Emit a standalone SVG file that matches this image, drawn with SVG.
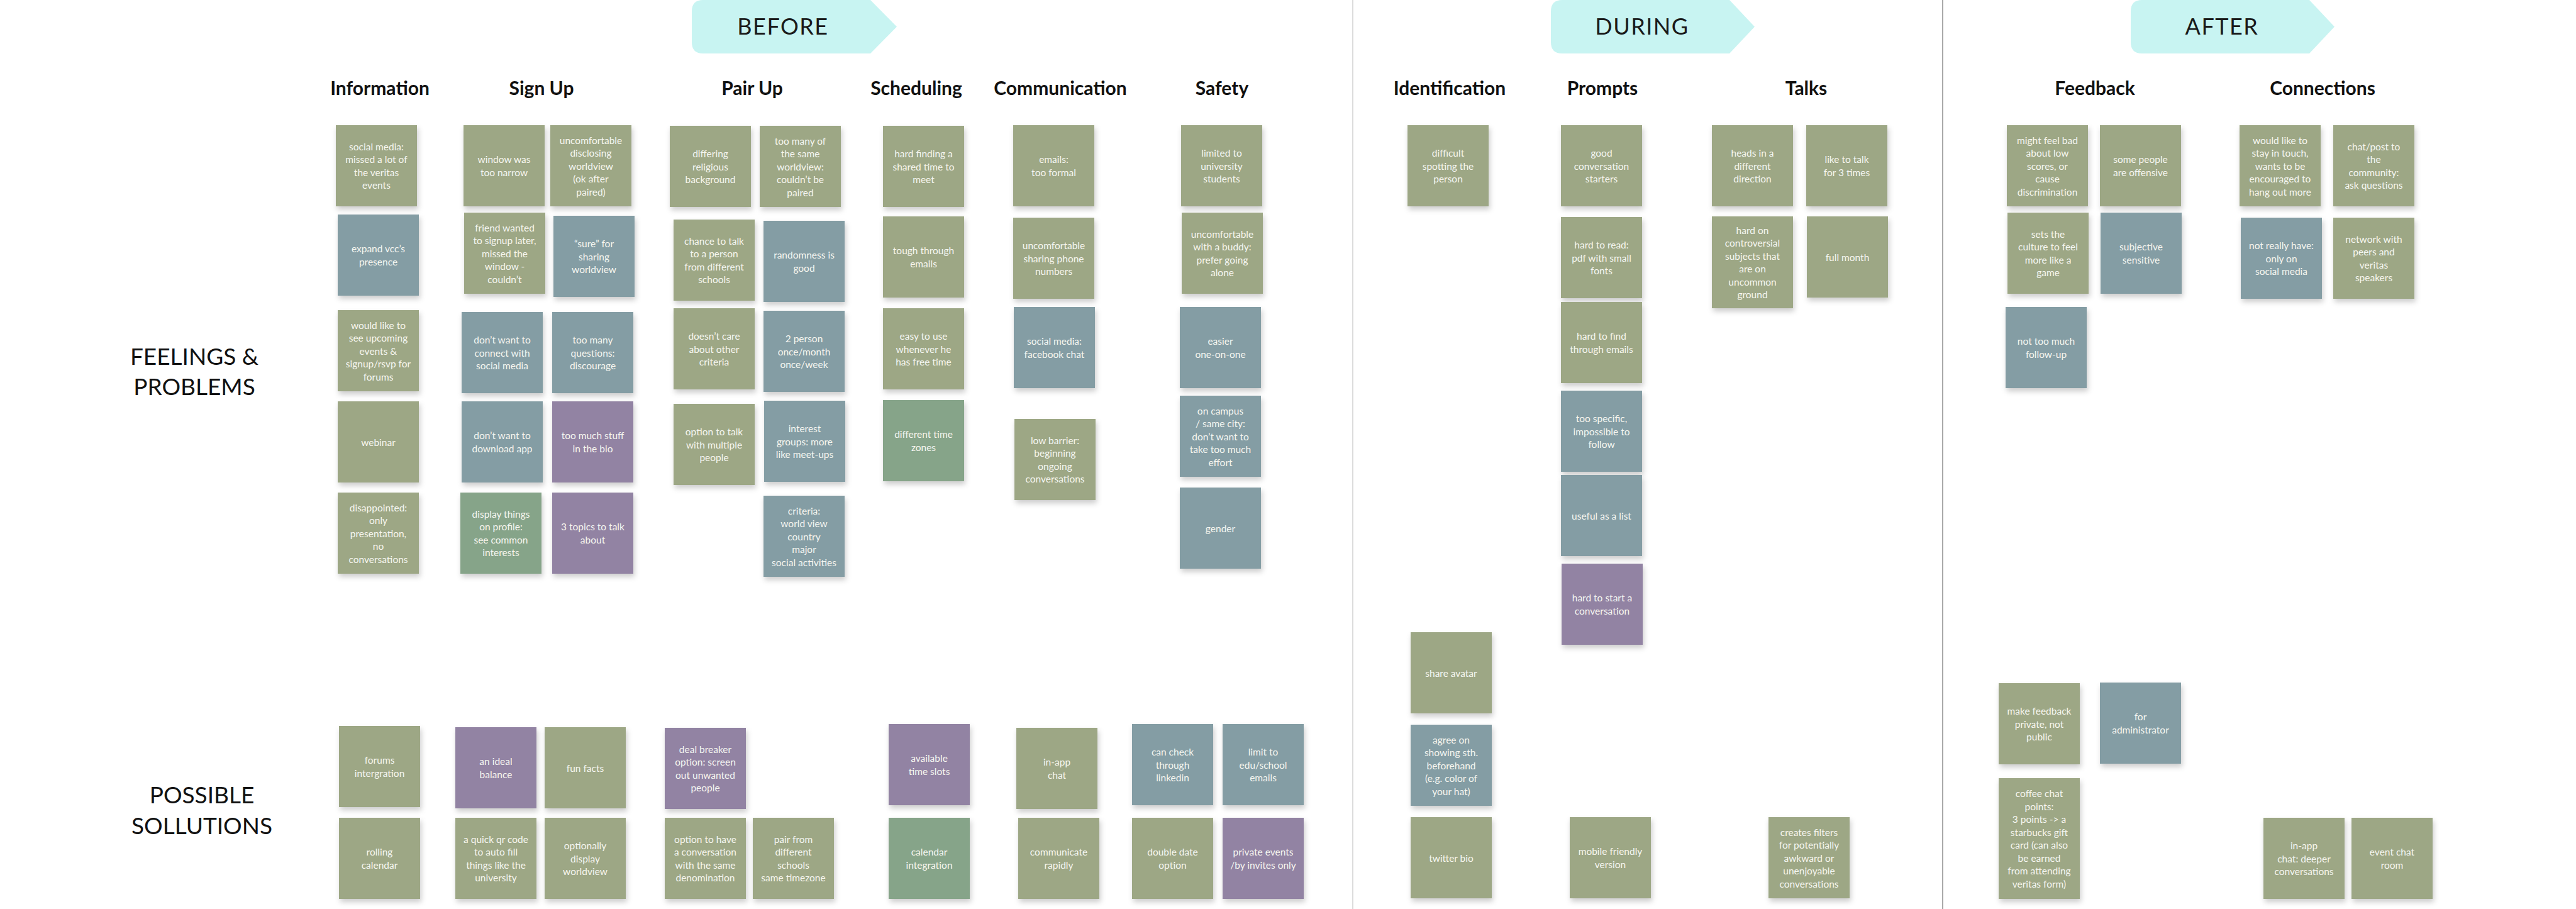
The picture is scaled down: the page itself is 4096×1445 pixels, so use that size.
<svg xmlns="http://www.w3.org/2000/svg" width="4096" height="1445" viewBox="0 0 4096 1445">
<defs>
<filter id="sh" x="-15%" y="-15%" width="140%" height="145%"><feDropShadow dx="2" dy="5" stdDeviation="4" flood-color="#000" flood-opacity="0.2"/></filter>
<style>
.g{fill:#9da785}.b{fill:#849da4}.p{fill:#9283a3}.t{fill:#86a489}
.s{filter:url(#sh)}
.n{font-family:Lato,"Open Sans","Liberation Sans",sans-serif;font-size:15.5px;fill:#f6f6f0;text-anchor:middle;dominant-baseline:central}
.h{font-family:Lato,"Open Sans","Liberation Sans",sans-serif;font-size:30px;font-weight:700;fill:#111;text-anchor:middle}
.r{font-family:Lato,"Open Sans","Liberation Sans",sans-serif;font-size:37px;fill:#111;text-anchor:middle}
.bt{font-family:Lato,"Open Sans","Liberation Sans",sans-serif;font-size:36px;fill:#1a1a1a;text-anchor:middle;letter-spacing:1.5px}
.ban{fill:#c8f4f2}
</style>
</defs>
<rect width="4096" height="1445" fill="#fff"/>
<g id="dividers">
<line x1="2151" y1="0" x2="2151" y2="1445" stroke="#dcdcdc" stroke-width="2"/>
<line x1="3089" y1="0" x2="3089" y2="1445" stroke="#a9a9a9" stroke-width="2"/>
</g>
<g id="banner-before"><path class="ban" d="M1118 0 L1384 0 L1426 42.5 L1384 85 L1118 85 Q1100 85 1100 67 L1100 18 Q1100 0 1118 0 Z"/><text class="bt" x="1245" y="55">BEFORE</text></g>
<g id="banner-during"><path class="ban" d="M2484 0 L2750 0 L2790 42.5 L2750 85 L2484 85 Q2466 85 2466 67 L2466 18 Q2466 0 2484 0 Z"/><text class="bt" x="2611" y="55">DURING</text></g>
<g id="banner-after"><path class="ban" d="M3406 0 L3672 0 L3712 42.5 L3672 85 L3406 85 Q3388 85 3388 67 L3388 18 Q3388 0 3406 0 Z"/><text class="bt" x="3533" y="55">AFTER</text></g>
<g id="headers">
<text class="h" x="604" y="151">Information</text>
<text class="h" x="861" y="151">Sign Up</text>
<text class="h" x="1196" y="151">Pair Up</text>
<text class="h" x="1457" y="151">Scheduling</text>
<text class="h" x="1686" y="151">Communication</text>
<text class="h" x="1943" y="151">Safety</text>
<text class="h" x="2305" y="151">Identification</text>
<text class="h" x="2548" y="151">Prompts</text>
<text class="h" x="2872" y="151">Talks</text>
<text class="h" x="3331" y="151">Feedback</text>
<text class="h" x="3693" y="151">Connections</text>
</g>
<g id="row-labels">
<text class="r" x="309" y="580">FEELINGS &amp;</text>
<text class="r" x="309" y="628">PROBLEMS</text>
<text class="r" x="321" y="1277">POSSIBLE</text>
<text class="r" x="321" y="1326">SOLLUTIONS</text>
</g>
<g id="n1"><rect class="g s" x="534" y="199" width="129" height="129"/><text class="n" x="598.5" y="232.75"><tspan x="598.5">social media:</tspan><tspan x="598.5" dy="20.5">missed a lot of</tspan><tspan x="598.5" dy="20.5">the veritas</tspan><tspan x="598.5" dy="20.5">events</tspan></text></g>
<g id="n2"><rect class="g s" x="737" y="199" width="129" height="129"/><text class="n" x="801.5" y="253.25"><tspan x="801.5">window was</tspan><tspan x="801.5" dy="20.5">too narrow</tspan></text></g>
<g id="n3"><rect class="g s" x="875" y="199" width="129" height="129"/><text class="n" x="939.5" y="222.5"><tspan x="939.5">uncomfortable</tspan><tspan x="939.5" dy="20.5">disclosing</tspan><tspan x="939.5" dy="20.5">worldview</tspan><tspan x="939.5" dy="20.5">(ok after</tspan><tspan x="939.5" dy="20.5">paired)</tspan></text></g>
<g id="n4"><rect class="b s" x="537" y="341" width="129" height="129"/><text class="n" x="601.5" y="395.25"><tspan x="601.5">expand vcc’s</tspan><tspan x="601.5" dy="20.5">presence</tspan></text></g>
<g id="n5"><rect class="g s" x="738" y="338" width="129" height="129"/><text class="n" x="802.5" y="361.5"><tspan x="802.5">friend wanted</tspan><tspan x="802.5" dy="20.5">to signup later,</tspan><tspan x="802.5" dy="20.5">missed the</tspan><tspan x="802.5" dy="20.5">window -</tspan><tspan x="802.5" dy="20.5">couldn’t</tspan></text></g>
<g id="n6"><rect class="b s" x="880" y="343" width="129" height="129"/><text class="n" x="944.5" y="387"><tspan x="944.5">“sure” for</tspan><tspan x="944.5" dy="20.5">sharing</tspan><tspan x="944.5" dy="20.5">worldview</tspan></text></g>
<g id="n7"><rect class="g s" x="537" y="493" width="129" height="129"/><text class="n" x="601.5" y="516.5"><tspan x="601.5">would like to</tspan><tspan x="601.5" dy="20.5">see upcoming</tspan><tspan x="601.5" dy="20.5">events &amp;</tspan><tspan x="601.5" dy="20.5">signup/rsvp for</tspan><tspan x="601.5" dy="20.5">forums</tspan></text></g>
<g id="n8"><rect class="b s" x="734" y="496" width="129" height="129"/><text class="n" x="798.5" y="540"><tspan x="798.5">don’t want to</tspan><tspan x="798.5" dy="20.5">connect with</tspan><tspan x="798.5" dy="20.5">social media</tspan></text></g>
<g id="n9"><rect class="b s" x="878" y="496" width="129" height="129"/><text class="n" x="942.5" y="540"><tspan x="942.5">too many</tspan><tspan x="942.5" dy="20.5">questions:</tspan><tspan x="942.5" dy="20.5">discourage</tspan></text></g>
<g id="n10"><rect class="g s" x="537" y="638" width="129" height="129"/><text class="n" x="601.5" y="702.5"><tspan x="601.5">webinar</tspan></text></g>
<g id="n11"><rect class="b s" x="734" y="638" width="129" height="129"/><text class="n" x="798.5" y="692.25"><tspan x="798.5">don’t want to</tspan><tspan x="798.5" dy="20.5">download app</tspan></text></g>
<g id="n12"><rect class="p s" x="878" y="638" width="129" height="129"/><text class="n" x="942.5" y="692.25"><tspan x="942.5">too much stuff</tspan><tspan x="942.5" dy="20.5">in the bio</tspan></text></g>
<g id="n13"><rect class="g s" x="537" y="783" width="129" height="129"/><text class="n" x="601.5" y="806.5"><tspan x="601.5">disappointed:</tspan><tspan x="601.5" dy="20.5">only</tspan><tspan x="601.5" dy="20.5">presentation,</tspan><tspan x="601.5" dy="20.5">no</tspan><tspan x="601.5" dy="20.5">conversations</tspan></text></g>
<g id="n14"><rect class="t s" x="732" y="783" width="129" height="129"/><text class="n" x="796.5" y="816.75"><tspan x="796.5">display things</tspan><tspan x="796.5" dy="20.5">on profile:</tspan><tspan x="796.5" dy="20.5">see common</tspan><tspan x="796.5" dy="20.5">interests</tspan></text></g>
<g id="n15"><rect class="p s" x="878" y="783" width="129" height="129"/><text class="n" x="942.5" y="837.25"><tspan x="942.5">3 topics to talk</tspan><tspan x="942.5" dy="20.5">about</tspan></text></g>
<g id="n16"><rect class="g s" x="1065" y="200" width="129" height="129"/><text class="n" x="1129.5" y="244"><tspan x="1129.5">differing</tspan><tspan x="1129.5" dy="20.5">religious</tspan><tspan x="1129.5" dy="20.5">background</tspan></text></g>
<g id="n17"><rect class="g s" x="1208" y="200" width="129" height="129"/><text class="n" x="1272.5" y="223.5"><tspan x="1272.5">too many of</tspan><tspan x="1272.5" dy="20.5">the same</tspan><tspan x="1272.5" dy="20.5">worldview:</tspan><tspan x="1272.5" dy="20.5">couldn’t be</tspan><tspan x="1272.5" dy="20.5">paired</tspan></text></g>
<g id="n18"><rect class="g s" x="1071" y="349" width="129" height="129"/><text class="n" x="1135.5" y="382.75"><tspan x="1135.5">chance to talk</tspan><tspan x="1135.5" dy="20.5">to a person</tspan><tspan x="1135.5" dy="20.5">from different</tspan><tspan x="1135.5" dy="20.5">schools</tspan></text></g>
<g id="n19"><rect class="b s" x="1214" y="351" width="129" height="129"/><text class="n" x="1278.5" y="405.25"><tspan x="1278.5">randomness is</tspan><tspan x="1278.5" dy="20.5">good</tspan></text></g>
<g id="n20"><rect class="g s" x="1071" y="490" width="129" height="129"/><text class="n" x="1135.5" y="534"><tspan x="1135.5">doesn’t care</tspan><tspan x="1135.5" dy="20.5">about other</tspan><tspan x="1135.5" dy="20.5">criteria</tspan></text></g>
<g id="n21"><rect class="b s" x="1214" y="494" width="129" height="129"/><text class="n" x="1278.5" y="538"><tspan x="1278.5">2 person</tspan><tspan x="1278.5" dy="20.5">once/month</tspan><tspan x="1278.5" dy="20.5">once/week</tspan></text></g>
<g id="n22"><rect class="g s" x="1071" y="642" width="129" height="129"/><text class="n" x="1135.5" y="686"><tspan x="1135.5">option to talk</tspan><tspan x="1135.5" dy="20.5">with multiple</tspan><tspan x="1135.5" dy="20.5">people</tspan></text></g>
<g id="n23"><rect class="b s" x="1215" y="637" width="129" height="129"/><text class="n" x="1279.5" y="681"><tspan x="1279.5">interest</tspan><tspan x="1279.5" dy="20.5">groups: more</tspan><tspan x="1279.5" dy="20.5">like meet-ups</tspan></text></g>
<g id="n24"><rect class="b s" x="1214" y="788" width="129" height="129"/><text class="n" x="1278.5" y="811.5"><tspan x="1278.5">criteria:</tspan><tspan x="1278.5" dy="20.5">world view</tspan><tspan x="1278.5" dy="20.5">country</tspan><tspan x="1278.5" dy="20.5">major</tspan><tspan x="1278.5" dy="20.5">social activities</tspan></text></g>
<g id="n25"><rect class="g s" x="1404" y="200" width="129" height="129"/><text class="n" x="1468.5" y="244"><tspan x="1468.5">hard finding a</tspan><tspan x="1468.5" dy="20.5">shared time to</tspan><tspan x="1468.5" dy="20.5">meet</tspan></text></g>
<g id="n26"><rect class="g s" x="1404" y="344" width="129" height="129"/><text class="n" x="1468.5" y="398.25"><tspan x="1468.5">tough through</tspan><tspan x="1468.5" dy="20.5">emails</tspan></text></g>
<g id="n27"><rect class="g s" x="1404" y="490" width="129" height="129"/><text class="n" x="1468.5" y="534"><tspan x="1468.5">easy to use</tspan><tspan x="1468.5" dy="20.5">whenever he</tspan><tspan x="1468.5" dy="20.5">has free time</tspan></text></g>
<g id="n28"><rect class="t s" x="1404" y="636" width="129" height="129"/><text class="n" x="1468.5" y="690.25"><tspan x="1468.5">different time</tspan><tspan x="1468.5" dy="20.5">zones</tspan></text></g>
<g id="n29"><rect class="g s" x="1611" y="199" width="129" height="129"/><text class="n" x="1675.5" y="253.25"><tspan x="1675.5">emails:</tspan><tspan x="1675.5" dy="20.5">too formal</tspan></text></g>
<g id="n30"><rect class="g s" x="1611" y="346" width="129" height="129"/><text class="n" x="1675.5" y="390"><tspan x="1675.5">uncomfortable</tspan><tspan x="1675.5" dy="20.5">sharing phone</tspan><tspan x="1675.5" dy="20.5">numbers</tspan></text></g>
<g id="n31"><rect class="b s" x="1612" y="488" width="129" height="129"/><text class="n" x="1676.5" y="542.25"><tspan x="1676.5">social media:</tspan><tspan x="1676.5" dy="20.5">facebook chat</tspan></text></g>
<g id="n32"><rect class="g s" x="1613" y="666" width="129" height="129"/><text class="n" x="1677.5" y="699.75"><tspan x="1677.5">low barrier:</tspan><tspan x="1677.5" dy="20.5">beginning</tspan><tspan x="1677.5" dy="20.5">ongoing</tspan><tspan x="1677.5" dy="20.5">conversations</tspan></text></g>
<g id="n33"><rect class="g s" x="1878" y="199" width="129" height="129"/><text class="n" x="1942.5" y="243"><tspan x="1942.5">limited to</tspan><tspan x="1942.5" dy="20.5">university</tspan><tspan x="1942.5" dy="20.5">students</tspan></text></g>
<g id="n34"><rect class="g s" x="1879" y="338" width="129" height="129"/><text class="n" x="1943.5" y="371.75"><tspan x="1943.5">uncomfortable</tspan><tspan x="1943.5" dy="20.5">with a buddy:</tspan><tspan x="1943.5" dy="20.5">prefer going</tspan><tspan x="1943.5" dy="20.5">alone</tspan></text></g>
<g id="n35"><rect class="b s" x="1876" y="488" width="129" height="129"/><text class="n" x="1940.5" y="542.25"><tspan x="1940.5">easier</tspan><tspan x="1940.5" dy="20.5">one-on-one</tspan></text></g>
<g id="n36"><rect class="b s" x="1876" y="629" width="129" height="129"/><text class="n" x="1940.5" y="652.5"><tspan x="1940.5">on campus</tspan><tspan x="1940.5" dy="20.5">/ same city:</tspan><tspan x="1940.5" dy="20.5">don’t want to</tspan><tspan x="1940.5" dy="20.5">take too much</tspan><tspan x="1940.5" dy="20.5">effort</tspan></text></g>
<g id="n37"><rect class="b s" x="1876" y="775" width="129" height="129"/><text class="n" x="1940.5" y="839.5"><tspan x="1940.5">gender</tspan></text></g>
<g id="n38"><rect class="g s" x="2238" y="199" width="129" height="129"/><text class="n" x="2302.5" y="243"><tspan x="2302.5">difficult</tspan><tspan x="2302.5" dy="20.5">spotting the</tspan><tspan x="2302.5" dy="20.5">person</tspan></text></g>
<g id="n39"><rect class="g s" x="2482" y="199" width="129" height="129"/><text class="n" x="2546.5" y="243"><tspan x="2546.5">good</tspan><tspan x="2546.5" dy="20.5">conversation</tspan><tspan x="2546.5" dy="20.5">starters</tspan></text></g>
<g id="n40"><rect class="g s" x="2482" y="345" width="129" height="129"/><text class="n" x="2546.5" y="389"><tspan x="2546.5">hard to read:</tspan><tspan x="2546.5" dy="20.5">pdf with small</tspan><tspan x="2546.5" dy="20.5">fonts</tspan></text></g>
<g id="n41"><rect class="g s" x="2482" y="480" width="129" height="129"/><text class="n" x="2546.5" y="534.25"><tspan x="2546.5">hard to find</tspan><tspan x="2546.5" dy="20.5">through emails</tspan></text></g>
<g id="n42"><rect class="b s" x="2482" y="621" width="129" height="129"/><text class="n" x="2546.5" y="665"><tspan x="2546.5">too specific,</tspan><tspan x="2546.5" dy="20.5">impossible to</tspan><tspan x="2546.5" dy="20.5">follow</tspan></text></g>
<g id="n43"><rect class="b s" x="2482" y="755" width="129" height="129"/><text class="n" x="2546.5" y="819.5"><tspan x="2546.5">useful as a list</tspan></text></g>
<g id="n44"><rect class="p s" x="2483" y="896" width="129" height="129"/><text class="n" x="2547.5" y="950.25"><tspan x="2547.5">hard to start a</tspan><tspan x="2547.5" dy="20.5">conversation</tspan></text></g>
<g id="n45"><rect class="g s" x="2722" y="199" width="129" height="129"/><text class="n" x="2786.5" y="243"><tspan x="2786.5">heads in a</tspan><tspan x="2786.5" dy="20.5">different</tspan><tspan x="2786.5" dy="20.5">direction</tspan></text></g>
<g id="n46"><rect class="g s" x="2872" y="199" width="129" height="129"/><text class="n" x="2936.5" y="253.25"><tspan x="2936.5">like to talk</tspan><tspan x="2936.5" dy="20.5">for 3 times</tspan></text></g>
<g id="n47"><rect class="g s" x="2722" y="344" width="129" height="146"/><text class="n" x="2786.5" y="365.75"><tspan x="2786.5">hard on</tspan><tspan x="2786.5" dy="20.5">controversial</tspan><tspan x="2786.5" dy="20.5">subjects that</tspan><tspan x="2786.5" dy="20.5">are on</tspan><tspan x="2786.5" dy="20.5">uncommon</tspan><tspan x="2786.5" dy="20.5">ground</tspan></text></g>
<g id="n48"><rect class="g s" x="2873" y="344" width="129" height="129"/><text class="n" x="2937.5" y="408.5"><tspan x="2937.5">full month</tspan></text></g>
<g id="n49"><rect class="g s" x="3191" y="199" width="129" height="129"/><text class="n" x="3255.5" y="222.5"><tspan x="3255.5">might feel bad</tspan><tspan x="3255.5" dy="20.5">about  low</tspan><tspan x="3255.5" dy="20.5">scores, or</tspan><tspan x="3255.5" dy="20.5">cause</tspan><tspan x="3255.5" dy="20.5">discrimination</tspan></text></g>
<g id="n50"><rect class="g s" x="3339" y="199" width="129" height="129"/><text class="n" x="3403.5" y="253.25"><tspan x="3403.5">some people</tspan><tspan x="3403.5" dy="20.5">are offensive</tspan></text></g>
<g id="n51"><rect class="g s" x="3192" y="338" width="129" height="129"/><text class="n" x="3256.5" y="371.75"><tspan x="3256.5">sets the</tspan><tspan x="3256.5" dy="20.5">culture to feel</tspan><tspan x="3256.5" dy="20.5">more like a</tspan><tspan x="3256.5" dy="20.5">game</tspan></text></g>
<g id="n52"><rect class="b s" x="3340" y="338" width="129" height="129"/><text class="n" x="3404.5" y="392.25"><tspan x="3404.5">subjective</tspan><tspan x="3404.5" dy="20.5">sensitive</tspan></text></g>
<g id="n53"><rect class="b s" x="3189" y="488" width="129" height="129"/><text class="n" x="3253.5" y="542.25"><tspan x="3253.5">not too much</tspan><tspan x="3253.5" dy="20.5">follow-up</tspan></text></g>
<g id="n54"><rect class="g s" x="3561" y="199" width="129" height="129"/><text class="n" x="3625.5" y="222.5"><tspan x="3625.5">would like to</tspan><tspan x="3625.5" dy="20.5">stay in touch,</tspan><tspan x="3625.5" dy="20.5">wants to be</tspan><tspan x="3625.5" dy="20.5">encouraged to</tspan><tspan x="3625.5" dy="20.5">hang out more</tspan></text></g>
<g id="n55"><rect class="g s" x="3710" y="199" width="129" height="129"/><text class="n" x="3774.5" y="232.75"><tspan x="3774.5">chat/post to</tspan><tspan x="3774.5" dy="20.5">the</tspan><tspan x="3774.5" dy="20.5">community:</tspan><tspan x="3774.5" dy="20.5">ask questions</tspan></text></g>
<g id="n56"><rect class="b s" x="3563" y="346" width="129" height="129"/><text class="n" x="3627.5" y="390"><tspan x="3627.5">not really have:</tspan><tspan x="3627.5" dy="20.5">only on</tspan><tspan x="3627.5" dy="20.5">social media</tspan></text></g>
<g id="n57"><rect class="g s" x="3710" y="346" width="129" height="129"/><text class="n" x="3774.5" y="379.75"><tspan x="3774.5">network with</tspan><tspan x="3774.5" dy="20.5">peers and</tspan><tspan x="3774.5" dy="20.5">veritas</tspan><tspan x="3774.5" dy="20.5">speakers</tspan></text></g>
<g id="n58"><rect class="g s" x="539" y="1154" width="129" height="129"/><text class="n" x="603.5" y="1208.25"><tspan x="603.5">forums</tspan><tspan x="603.5" dy="20.5">intergration</tspan></text></g>
<g id="n59"><rect class="g s" x="539" y="1300" width="129" height="129"/><text class="n" x="603.5" y="1354.25"><tspan x="603.5">rolling</tspan><tspan x="603.5" dy="20.5">calendar</tspan></text></g>
<g id="n60"><rect class="p s" x="724" y="1156" width="129" height="129"/><text class="n" x="788.5" y="1210.25"><tspan x="788.5">an ideal</tspan><tspan x="788.5" dy="20.5">balance</tspan></text></g>
<g id="n61"><rect class="g s" x="866" y="1156" width="129" height="129"/><text class="n" x="930.5" y="1220.5"><tspan x="930.5">fun facts</tspan></text></g>
<g id="n62"><rect class="g s" x="724" y="1300" width="129" height="129"/><text class="n" x="788.5" y="1333.75"><tspan x="788.5">a quick qr code</tspan><tspan x="788.5" dy="20.5">to auto fill</tspan><tspan x="788.5" dy="20.5">things like the</tspan><tspan x="788.5" dy="20.5">university</tspan></text></g>
<g id="n63"><rect class="g s" x="866" y="1300" width="129" height="129"/><text class="n" x="930.5" y="1344"><tspan x="930.5">optionally</tspan><tspan x="930.5" dy="20.5">display</tspan><tspan x="930.5" dy="20.5">worldview</tspan></text></g>
<g id="n64"><rect class="p s" x="1057" y="1157" width="129" height="129"/><text class="n" x="1121.5" y="1190.75"><tspan x="1121.5">deal breaker</tspan><tspan x="1121.5" dy="20.5">option: screen</tspan><tspan x="1121.5" dy="20.5">out unwanted</tspan><tspan x="1121.5" dy="20.5">people</tspan></text></g>
<g id="n65"><rect class="g s" x="1057" y="1300" width="129" height="129"/><text class="n" x="1121.5" y="1333.75"><tspan x="1121.5">option to have</tspan><tspan x="1121.5" dy="20.5">a conversation</tspan><tspan x="1121.5" dy="20.5">with the same</tspan><tspan x="1121.5" dy="20.5">denomination</tspan></text></g>
<g id="n66"><rect class="g s" x="1197" y="1300" width="129" height="129"/><text class="n" x="1261.5" y="1333.75"><tspan x="1261.5">pair from</tspan><tspan x="1261.5" dy="20.5">different</tspan><tspan x="1261.5" dy="20.5">schools</tspan><tspan x="1261.5" dy="20.5">same timezone</tspan></text></g>
<g id="n67"><rect class="p s" x="1413" y="1151" width="129" height="129"/><text class="n" x="1477.5" y="1205.25"><tspan x="1477.5">available</tspan><tspan x="1477.5" dy="20.5">time slots</tspan></text></g>
<g id="n68"><rect class="t s" x="1413" y="1300" width="129" height="129"/><text class="n" x="1477.5" y="1354.25"><tspan x="1477.5">calendar</tspan><tspan x="1477.5" dy="20.5">integration</tspan></text></g>
<g id="n69"><rect class="g s" x="1616" y="1157" width="129" height="129"/><text class="n" x="1680.5" y="1211.25"><tspan x="1680.5">in-app</tspan><tspan x="1680.5" dy="20.5">chat</tspan></text></g>
<g id="n70"><rect class="g s" x="1619" y="1300" width="129" height="129"/><text class="n" x="1683.5" y="1354.25"><tspan x="1683.5">communicate</tspan><tspan x="1683.5" dy="20.5">rapidly</tspan></text></g>
<g id="n71"><rect class="b s" x="1800" y="1151" width="129" height="129"/><text class="n" x="1864.5" y="1195"><tspan x="1864.5">can check</tspan><tspan x="1864.5" dy="20.5">through</tspan><tspan x="1864.5" dy="20.5">linkedin</tspan></text></g>
<g id="n72"><rect class="b s" x="1944" y="1151" width="129" height="129"/><text class="n" x="2008.5" y="1195"><tspan x="2008.5">limit to</tspan><tspan x="2008.5" dy="20.5">edu/school</tspan><tspan x="2008.5" dy="20.5">emails</tspan></text></g>
<g id="n73"><rect class="g s" x="1800" y="1300" width="129" height="129"/><text class="n" x="1864.5" y="1354.25"><tspan x="1864.5">double date</tspan><tspan x="1864.5" dy="20.5">option</tspan></text></g>
<g id="n74"><rect class="p s" x="1944" y="1300" width="129" height="129"/><text class="n" x="2008.5" y="1354.25"><tspan x="2008.5">private events</tspan><tspan x="2008.5" dy="20.5">/by invites only</tspan></text></g>
<g id="n75"><rect class="g s" x="2243" y="1005" width="129" height="129"/><text class="n" x="2307.5" y="1069.5"><tspan x="2307.5">share avatar</tspan></text></g>
<g id="n76"><rect class="b s" x="2243" y="1152" width="129" height="129"/><text class="n" x="2307.5" y="1175.5"><tspan x="2307.5">agree on</tspan><tspan x="2307.5" dy="20.5">showing sth.</tspan><tspan x="2307.5" dy="20.5">beforehand</tspan><tspan x="2307.5" dy="20.5">(e.g. color of</tspan><tspan x="2307.5" dy="20.5">your hat)</tspan></text></g>
<g id="n77"><rect class="g s" x="2243" y="1299" width="129" height="129"/><text class="n" x="2307.5" y="1363.5"><tspan x="2307.5">twitter bio</tspan></text></g>
<g id="n78"><rect class="g s" x="2496" y="1299" width="129" height="129"/><text class="n" x="2560.5" y="1353.25"><tspan x="2560.5">mobile friendly</tspan><tspan x="2560.5" dy="20.5">version</tspan></text></g>
<g id="n79"><rect class="g s" x="2812" y="1299" width="129" height="129"/><text class="n" x="2876.5" y="1322.5"><tspan x="2876.5">creates filters</tspan><tspan x="2876.5" dy="20.5">for potentially</tspan><tspan x="2876.5" dy="20.5">awkward or</tspan><tspan x="2876.5" dy="20.5">unenjoyable</tspan><tspan x="2876.5" dy="20.5">conversations</tspan></text></g>
<g id="n80"><rect class="g s" x="3178" y="1086" width="129" height="129"/><text class="n" x="3242.5" y="1130"><tspan x="3242.5">make feedback</tspan><tspan x="3242.5" dy="20.5">private, not</tspan><tspan x="3242.5" dy="20.5">public</tspan></text></g>
<g id="n81"><rect class="b s" x="3339" y="1085" width="129" height="129"/><text class="n" x="3403.5" y="1139.25"><tspan x="3403.5">for</tspan><tspan x="3403.5" dy="20.5">administrator</tspan></text></g>
<g id="n82"><rect class="g s" x="3178" y="1237" width="129" height="192"/><text class="n" x="3242.5" y="1261.25"><tspan x="3242.5">coffee chat</tspan><tspan x="3242.5" dy="20.5">points:</tspan><tspan x="3242.5" dy="20.5">3 points -&gt; a</tspan><tspan x="3242.5" dy="20.5">starbucks gift</tspan><tspan x="3242.5" dy="20.5">card (can also</tspan><tspan x="3242.5" dy="20.5">be earned</tspan><tspan x="3242.5" dy="20.5">from attending</tspan><tspan x="3242.5" dy="20.5">veritas form)</tspan></text></g>
<g id="n83"><rect class="g s" x="3599" y="1300" width="129" height="129"/><text class="n" x="3663.5" y="1344"><tspan x="3663.5">in-app</tspan><tspan x="3663.5" dy="20.5">chat: deeper</tspan><tspan x="3663.5" dy="20.5">conversations</tspan></text></g>
<g id="n84"><rect class="g s" x="3739" y="1300" width="129" height="129"/><text class="n" x="3803.5" y="1354.25"><tspan x="3803.5">event chat</tspan><tspan x="3803.5" dy="20.5">room</tspan></text></g>
</svg>
